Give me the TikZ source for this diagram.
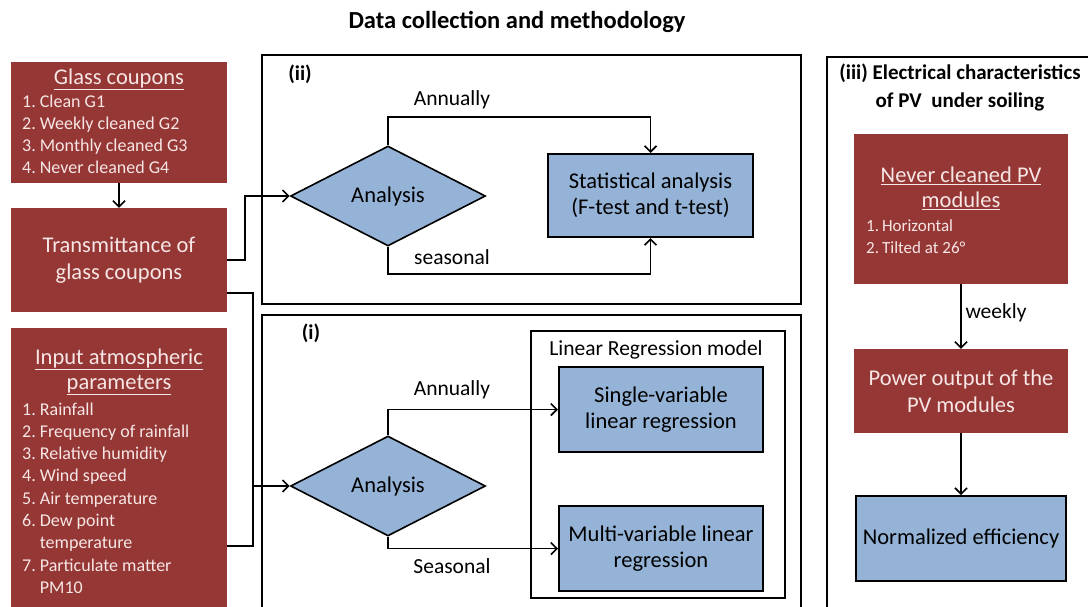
\documentclass[tikz,border=0pt]{standalone}
\usepackage{fontspec}
\setmainfont{Carlito}
\usetikzlibrary{shapes.geometric,arrows.meta}
\definecolor{boxred}{RGB}{149,55,53}
\definecolor{boxblue}{RGB}{149,179,215}
\definecolor{paletext}{RGB}{246,230,229}
\begin{document}
\begin{tikzpicture}[x=1pt,y=-1pt,
  redbox/.style={fill=boxred,text=paletext,inner sep=0pt,align=center,font=\fontsize{22.5}{27}\selectfont},
  bluebox/.style={fill=boxblue,draw=black,line width=2pt,inner sep=0pt,align=center,font=\fontsize{22.5}{26}\selectfont},
  frame/.style={draw=black,line width=2pt},
  decide/.style={diamond,fill=boxblue,draw=black,line width=1.6pt,inner sep=0pt,minimum width=195pt,minimum height=100pt,font=\fontsize{22.5}{26}\selectfont},
  conn/.style={line width=1.6pt},
  arr/.style={conn,-{Straight Barb[length=6pt,width=12pt]}},
  lbl/.style={font=\fontsize{21.5}{26}\selectfont},
  redhead/.style={text=paletext,align=center,inner sep=0pt,font=\fontsize{22.5}{25}\selectfont},
  redlist/.style={text=paletext,inner sep=0pt,anchor=base west,font=\fontsize{18}{22.3}\selectfont},
  head/.style={font=\bfseries\fontsize{21}{28}\selectfont}]
  \clip (0,0) rectangle (1088,606);
  \node[font=\bfseries\fontsize{24.5}{28}\selectfont] (title) at (517,22) {Data collection and methodology};
  % frames of the three parts
  \draw[frame] (262,55) rectangle (801,304);
  \draw[frame] (262,315) rectangle (801,620);
  \draw[frame] (827,57) rectangle (1100,620);
  \draw[frame] (531,331) rectangle (785,598);
  \node[head] (partii) at (300,74) {(ii)};
  \node[head] (parti) at (311,333) {(i)};
  \node[head,align=center] (partiii) at (960,87) {(iii) Electrical characteristics\\of PV\ \ under soiling};
  % left column
  \node[redbox,minimum width=216pt,minimum height=121pt] (glass) at (119,122.5) {};
  \node[redhead] (glasshead) at (119,79) {\underline{Glass coupons}};
  \node[redlist] (glasslist) at (22,107) {\begin{tabular}[t]{@{}l@{\hspace{4pt}}l@{}}1.&Clean G1\\2.&Weekly cleaned G2\\3.&Monthly cleaned G3\\4.&Never cleaned G4\end{tabular}};
  \node[redbox,minimum width=216pt,minimum height=104pt] (trans) at (119,260) {Transmittance of\\glass coupons};
  \node[redbox,minimum width=216pt,minimum height=292pt,anchor=north west] (atmo) at (11,328) {};
  \node[redhead] (atmohead) at (119,371.5) {\underline{Input atmospheric}\\\underline{parameters}};
  \node[redlist] (atmolist) at (22,415) {\begin{tabular}[t]{@{}l@{\hspace{4pt}}l@{}}1.&Rainfall\\2.&Frequency of rainfall\\3.&Relative humidity\\4.&Wind speed\\5.&Air temperature\\6.&Dew point\\&temperature\\7.&Particulate matter\\&PM10\end{tabular}};
  % part (ii)
  \node[decide] (anaII) at (388,196) {Analysis};
  \node[bluebox,minimum width=205pt,minimum height=83pt] (stat) at (650.5,195.5) {Statistical analysis\\(F-test and t-test)};
  \node[lbl] (annII) at (452,100) {Annually};
  \node[lbl] (seasII) at (452,257) {seasonal};
  % part (i)
  \node[font=\fontsize{21.5}{24}\selectfont] (lrm) at (656,350) {Linear Regression model};
  \node[bluebox,minimum width=204pt,minimum height=85pt] (single) at (661,409.5) {Single-variable\\linear regression};
  \node[bluebox,minimum width=204pt,minimum height=85pt] (multi) at (661,548.5) {Multi-variable linear\\regression};
  \node[decide] (anaI) at (388,486) {Analysis};
  \node[lbl] (annI) at (452,390) {Annually};
  \node[lbl] (seasI) at (452,566) {Seasonal};
  % part (iii)
  \node[redbox,minimum width=214pt,minimum height=150pt] (never) at (961,209) {};
  \node[redhead] (neverhead) at (961,188.5) {\underline{Never cleaned PV}\\\underline{modules}};
  \node[redlist,font=\fontsize{17}{22}\selectfont] (neverlist) at (866,231) {\begin{tabular}[t]{@{}l@{\hspace{3pt}}l@{}}1.&Horizontal\\2.&Tilted at 26°\end{tabular}};
  \node[redbox,minimum width=214pt,minimum height=84pt] (power) at (961,391) {Power output of the\\PV modules};
  \node[bluebox,minimum width=210pt,minimum height=85pt] (norm) at (961,538.5) {Normalized efficiency};
  \node[lbl,anchor=west] (weekly) at (962,313) {weekly};
  % connectors
  \coordinate (jn) at (253,486);
  \draw[arr] (glass) -- (trans);
  \draw[arr] (trans.east) -- ++(18,0) |- (anaII.west);
  \draw[conn] ([yshift=-33pt]trans.east) -| (jn);
  \draw[conn] ([yshift=-72pt]atmo.east) -| (jn);
  \draw[arr] (jn) -- (anaI.west);
  \draw[arr] (anaII.north) -- ++(0,-28) -| (stat.north);
  \draw[arr] (anaII.south) -- ++(0,27) -| (stat.south);
  \draw[arr] (anaI.north) |- (single.west);
  \draw[arr] (anaI.south) |- (multi.west);
  \draw[arr] (never) -- (power);
  \draw[arr] (power) -- (norm);
\end{tikzpicture}
\end{document}
